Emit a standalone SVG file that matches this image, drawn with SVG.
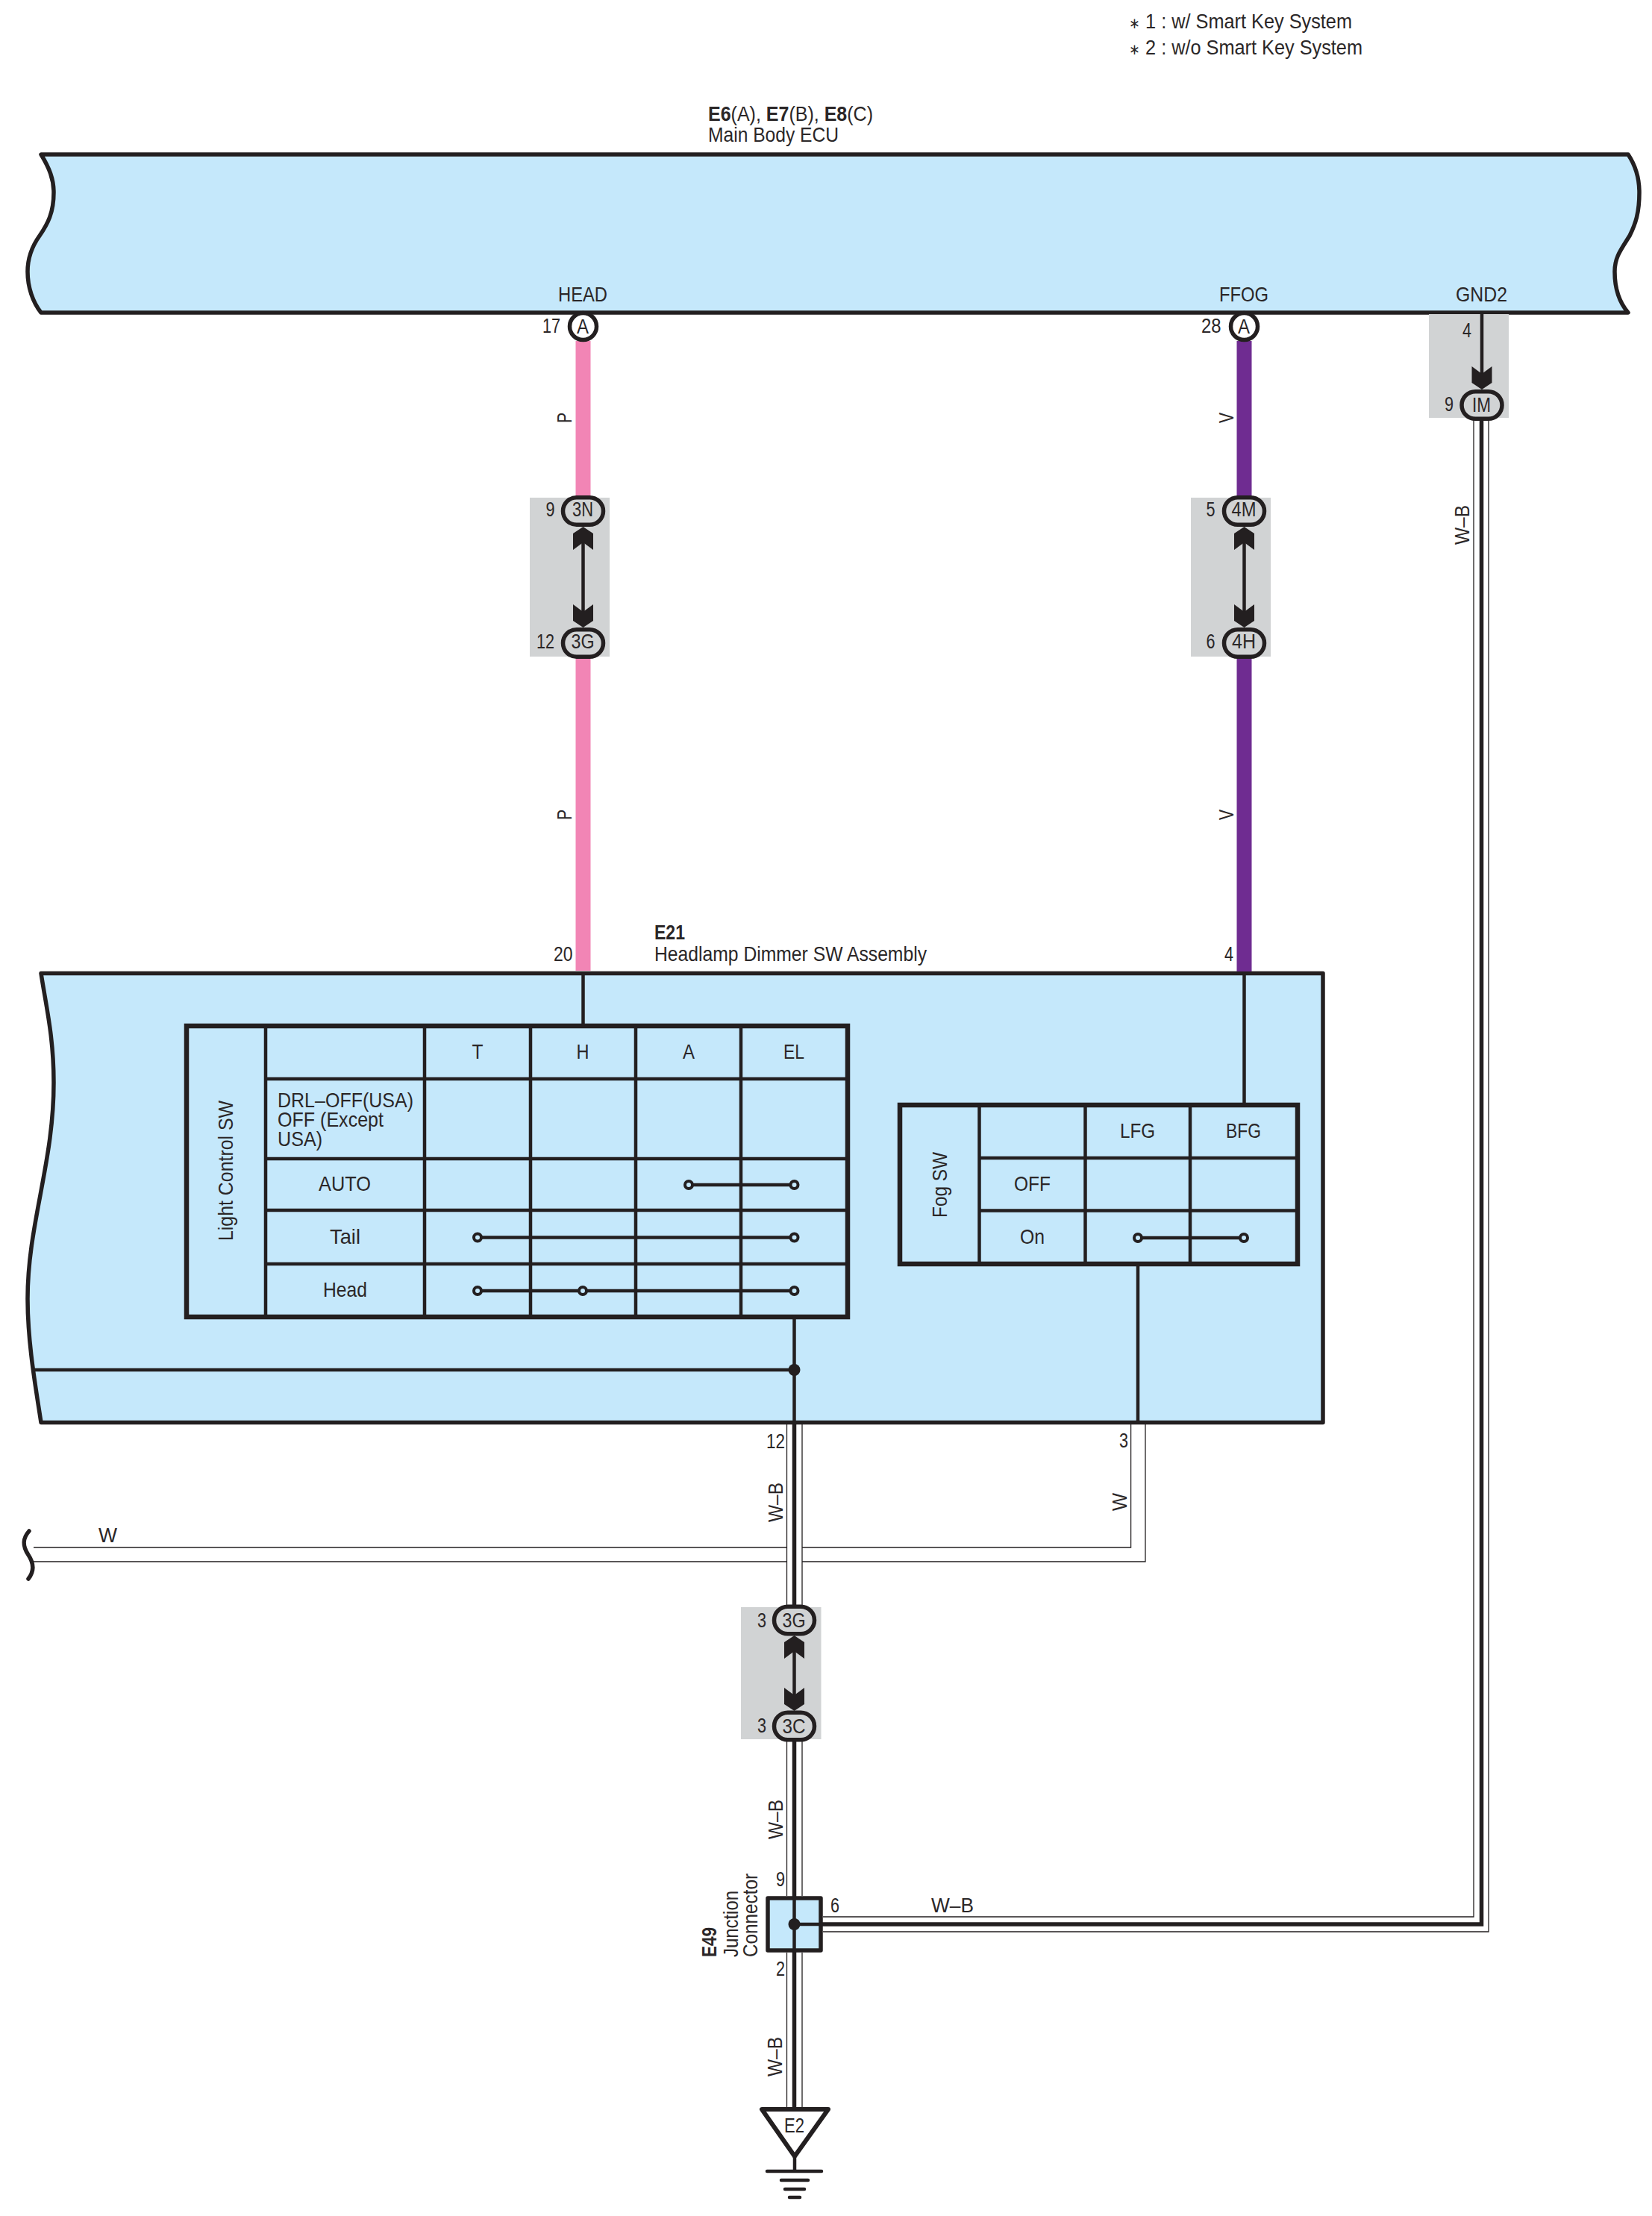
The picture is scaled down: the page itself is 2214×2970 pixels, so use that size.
<svg xmlns="http://www.w3.org/2000/svg" xmlns:xlink="http://www.w3.org/1999/xlink" width="2214" height="2970" viewBox="0 0 2214 2970">
<style>
text{font-family:"Liberation Sans",Arial,sans-serif;font-size:28.5px;fill:#2b2728;stroke:none}
.c{text-anchor:middle}
.b{font-weight:700}
.st{font-size:20px}
.body{fill:#c5e8fb;stroke:#231f20;stroke-width:5.5;stroke-linejoin:round}
.tbl{fill:#c5e8fb;stroke:#231f20;stroke-width:6.5;stroke-linejoin:miter}
.grid{fill:none;stroke:#231f20;stroke-width:4.5}
.wire{fill:none;stroke:#231f20;stroke-width:4.5}
.core{fill:none;stroke:#231f20;stroke-width:5.5;stroke-linejoin:miter}
.thin{fill:none;stroke:#231f20;stroke-width:1.3}
.pink{fill:none;stroke:#f285b5;stroke-width:20}
.vio{fill:none;stroke:#6f2c91;stroke-width:20}
.grey{fill:#d1d3d4}
.oval{fill:#d1d3d4;stroke:#231f20;stroke-width:5.5}
.ring{fill:#fff;stroke:#231f20;stroke-width:5.5}
.ink{fill:#231f20;stroke:none}
.open{fill:#c5e8fb;stroke:#231f20;stroke-width:4}
.bar{fill:none;stroke:#231f20;stroke-width:4.5;stroke-linecap:round}
</style>
<defs>
<path id="up" class="ink" d="M0 0L13.5 9V31L0 21L-13.5 31V9Z"/>
<path id="dn" class="ink" d="M0 0L13.5 -9V-31L0 -21L-13.5 -31V-9Z"/>
<rect id="ov" class="oval" x="-27" y="-18.3" width="54" height="36.6" rx="18.3"/>
<circle id="sw" class="open" r="5"/>
</defs>

<g id="note">
<text x="1513" y="38" textLength="299" lengthAdjust="spacingAndGlyphs"><tspan class="st">∗</tspan> 1 : w/ Smart Key System</text>
<text x="1513" y="73" textLength="313" lengthAdjust="spacingAndGlyphs"><tspan class="st">∗</tspan> 2 : w/o Smart Key System</text>
</g>

<g id="ecu">
<path class="body" d="M55 207H2182C2192 222 2197 240 2197 258C2197 285 2192 300 2184 316C2172 335 2164 345 2164 364C2164 385 2170 405 2182 419H55C44 405 37 385 37 364C37 345 43 330 53 316C64 300 72 285 72 258C72 240 66 225 55 207Z"/>
<text x="949" y="161.5" textLength="221" lengthAdjust="spacingAndGlyphs"><tspan class="b">E6</tspan>(A), <tspan class="b">E7</tspan>(B), <tspan class="b">E8</tspan>(C)</text>
<text x="949" y="190" textLength="175" lengthAdjust="spacingAndGlyphs">Main Body ECU</text>
<text x="748" y="404" textLength="66" lengthAdjust="spacingAndGlyphs">HEAD</text>
<text x="1634" y="404" textLength="66" lengthAdjust="spacingAndGlyphs">FFOG</text>
<text x="1951" y="404" textLength="69" lengthAdjust="spacingAndGlyphs">GND2</text>
</g>

<g id="dimmer">
<path class="body" d="M55 1304.5H1773V1906.5H55C48 1860 37 1800 37 1741C37 1640 72 1560 72 1451C72 1390 62 1350 55 1304.5Z"/>
<text class="b" x="877" y="1259" textLength="41" lengthAdjust="spacingAndGlyphs">E21</text>
<text x="877" y="1288" textLength="365" lengthAdjust="spacingAndGlyphs">Headlamp Dimmer SW Assembly</text>
</g>

<g id="light-control-sw">
<rect class="tbl" x="250" y="1375" width="886" height="390"/>
<path class="grid" d="M356 1375V1765M569 1375V1765M711 1375V1765M852 1375V1765M993 1375V1765M356 1446H1136M356 1553H1136M356 1622H1136M356 1694H1136"/>
<path class="wire" d="M923 1588H1064.5M640 1658.5H1064.5M640 1730H1064.5"/>
<use xlink:href="#sw" href="#sw" x="923" y="1588"/><use xlink:href="#sw" href="#sw" x="1064.5" y="1588"/>
<use xlink:href="#sw" href="#sw" x="640" y="1658.5"/><use xlink:href="#sw" href="#sw" x="1064.5" y="1658.5"/>
<use xlink:href="#sw" href="#sw" x="640" y="1730"/><use xlink:href="#sw" href="#sw" x="781" y="1730"/><use xlink:href="#sw" href="#sw" x="1064.5" y="1730"/>
<text transform="translate(312 1663) rotate(-90)" textLength="188" lengthAdjust="spacingAndGlyphs">Light Control SW</text>
<text class="c" x="640" y="1419" textLength="15" lengthAdjust="spacingAndGlyphs">T</text>
<text class="c" x="781" y="1419" textLength="17" lengthAdjust="spacingAndGlyphs">H</text>
<text class="c" x="923" y="1419" textLength="16" lengthAdjust="spacingAndGlyphs">A</text>
<text class="c" x="1064" y="1419" textLength="28" lengthAdjust="spacingAndGlyphs">EL</text>
<text x="372" y="1484" textLength="182" lengthAdjust="spacingAndGlyphs">DRL–OFF(USA)</text>
<text x="372" y="1510" textLength="142" lengthAdjust="spacingAndGlyphs">OFF (Except</text>
<text x="372" y="1536" textLength="60" lengthAdjust="spacingAndGlyphs">USA)</text>
<text x="427" y="1596" textLength="70" lengthAdjust="spacingAndGlyphs">AUTO</text>
<text x="442" y="1667" textLength="41" lengthAdjust="spacingAndGlyphs">Tail</text>
<text x="433" y="1738" textLength="59" lengthAdjust="spacingAndGlyphs">Head</text>
</g>

<g id="fog-sw">
<rect class="tbl" x="1206" y="1481" width="533" height="213"/>
<path class="grid" d="M1312.5 1481V1694M1454.5 1481V1694M1595 1481V1694M1312.5 1552H1739M1312.5 1622.5H1739"/>
<path class="wire" d="M1525 1659H1667"/>
<use xlink:href="#sw" href="#sw" x="1525" y="1659"/><use xlink:href="#sw" href="#sw" x="1667" y="1659"/>
<text transform="translate(1269 1632) rotate(-90)" textLength="88" lengthAdjust="spacingAndGlyphs">Fog SW</text>
<text x="1501" y="1524.5" textLength="47" lengthAdjust="spacingAndGlyphs">LFG</text>
<text x="1643" y="1524.5" textLength="47" lengthAdjust="spacingAndGlyphs">BFG</text>
<text x="1359" y="1596" textLength="49" lengthAdjust="spacingAndGlyphs">OFF</text>
<text x="1367" y="1667" textLength="33" lengthAdjust="spacingAndGlyphs">On</text>
</g>

<g id="connectors">
<path class="pink" d="M781.5 457V668M781.5 880V1301"/>
<path class="vio" d="M1667.5 457V668M1667.5 880V1302"/>
<path class="wire" d="M781.5 1304V1375M1667.5 1304V1481M1064.5 1765V1909M44 1836H1064.5M1525 1694V1906"/>
<circle class="ink" cx="1064.5" cy="1836" r="8"/>
<path class="core" d="M1064.5 1906V2155M1064.5 2330V2827"/>
<path class="thin" d="M1054.5 1909V2152M1075 1909V2152M1054.5 2333V2541M1075 2333V2541M1054.5 2617V2825M1075 2617V2825"/>
<path class="thin" d="M1515.6 1909V2074H1075M1054.5 2074H45M1535 1909V2093H1075M1054.5 2093H45"/>
<path class="bar" style="stroke-width:5.5" d="M39 2052C30 2062 30 2072 38 2084C46 2096 46 2106 38 2116"/>
<path class="core" d="M1064.5 2579H1985.5V560"/>
<path class="thin" d="M1103 2569H1975V562M1103 2589H1995V562"/>
<text x="132" y="2067" textLength="25" lengthAdjust="spacingAndGlyphs">W</text>
<text x="1500" y="1940" textLength="12" lengthAdjust="spacingAndGlyphs">3</text>
<text transform="translate(1509.7 2025) rotate(-90)" textLength="24" lengthAdjust="spacingAndGlyphs">W</text>
<text x="1027" y="1941" textLength="25" lengthAdjust="spacingAndGlyphs">12</text>
<text x="742" y="1288" textLength="25.5" lengthAdjust="spacingAndGlyphs">20</text>
<text x="1641" y="1288" textLength="12" lengthAdjust="spacingAndGlyphs">4</text>
<text transform="translate(765.7 567) rotate(-90)" textLength="14" lengthAdjust="spacingAndGlyphs">P</text>
<text transform="translate(765.7 1099) rotate(-90)" textLength="14" lengthAdjust="spacingAndGlyphs">P</text>
<text transform="translate(1653 567) rotate(-90)" textLength="14" lengthAdjust="spacingAndGlyphs">V</text>
<text transform="translate(1653 1099) rotate(-90)" textLength="14" lengthAdjust="spacingAndGlyphs">V</text>
<text transform="translate(1969 730) rotate(-90)" textLength="53" lengthAdjust="spacingAndGlyphs">W–B</text>
<text transform="translate(1049 2040) rotate(-90)" textLength="53" lengthAdjust="spacingAndGlyphs">W–B</text>
<text transform="translate(1049 2465) rotate(-90)" textLength="53" lengthAdjust="spacingAndGlyphs">W–B</text>
<text transform="translate(1048 2783) rotate(-90)" textLength="53" lengthAdjust="spacingAndGlyphs">W–B</text>
<text x="1248" y="2563" textLength="57" lengthAdjust="spacingAndGlyphs">W–B</text>
</g>

<g id="pin-head">
<circle class="ring" cx="781.5" cy="437.5" r="18"/>
<text class="c" x="781" y="447" textLength="16" lengthAdjust="spacingAndGlyphs">A</text>
<text x="727" y="446" textLength="24" lengthAdjust="spacingAndGlyphs">17</text>
</g>
<g id="pin-ffog">
<circle class="ring" cx="1667.5" cy="437.5" r="18"/>
<text class="c" x="1667" y="447" textLength="16" lengthAdjust="spacingAndGlyphs">A</text>
<text x="1610" y="446" textLength="26.5" lengthAdjust="spacingAndGlyphs">28</text>
</g>

<g id="conn-3n-3g">
<rect class="grey" x="710" y="667" width="107" height="213"/>
<path class="wire" d="M781.5 725V822"/>
<use xlink:href="#up" href="#up" x="781.5" y="706"/><use xlink:href="#dn" href="#dn" x="781.5" y="841"/>
<use xlink:href="#ov" href="#ov" x="781.5" y="685"/><use xlink:href="#ov" href="#ov" x="781.5" y="862"/>
<text class="c" x="781" y="692" textLength="28" lengthAdjust="spacingAndGlyphs">3N</text>
<text class="c" x="781" y="869" textLength="31" lengthAdjust="spacingAndGlyphs">3G</text>
<text x="731.5" y="692" textLength="12" lengthAdjust="spacingAndGlyphs">9</text>
<text x="719" y="869" textLength="24" lengthAdjust="spacingAndGlyphs">12</text>
</g>

<g id="conn-4m-4h">
<rect class="grey" x="1596" y="667" width="107" height="213"/>
<path class="wire" d="M1667.5 725V822"/>
<use xlink:href="#up" href="#up" x="1667.5" y="706"/><use xlink:href="#dn" href="#dn" x="1667.5" y="841"/>
<use xlink:href="#ov" href="#ov" x="1667.5" y="685"/><use xlink:href="#ov" href="#ov" x="1667.5" y="862"/>
<text class="c" x="1667" y="692" textLength="33" lengthAdjust="spacingAndGlyphs">4M</text>
<text class="c" x="1667" y="869" textLength="32" lengthAdjust="spacingAndGlyphs">4H</text>
<text x="1616.5" y="692" textLength="12" lengthAdjust="spacingAndGlyphs">5</text>
<text x="1616.5" y="869" textLength="12" lengthAdjust="spacingAndGlyphs">6</text>
</g>

<g id="conn-im">
<rect class="grey" x="1915" y="421" width="107" height="139"/>
<path class="wire" d="M1986 419V505"/>
<use xlink:href="#dn" href="#dn" x="1986" y="522"/>
<use xlink:href="#ov" href="#ov" x="1986" y="543"/>
<text class="c" x="1985.5" y="551.5" textLength="25" lengthAdjust="spacingAndGlyphs">IM</text>
<text x="1960" y="452" textLength="12" lengthAdjust="spacingAndGlyphs">4</text>
<text x="1936" y="551" textLength="12" lengthAdjust="spacingAndGlyphs">9</text>
</g>

<g id="conn-3g-3c">
<rect class="grey" x="993" y="2154" width="107.5" height="177"/>
<path class="wire" d="M1064.5 2210V2275"/>
<use xlink:href="#up" href="#up" x="1064.5" y="2192"/><use xlink:href="#dn" href="#dn" x="1064.5" y="2293"/>
<use xlink:href="#ov" href="#ov" x="1064.5" y="2171.5"/><use xlink:href="#ov" href="#ov" x="1064.5" y="2313.5"/>
<text class="c" x="1064" y="2181" textLength="31" lengthAdjust="spacingAndGlyphs">3G</text>
<text class="c" x="1064" y="2322.5" textLength="31" lengthAdjust="spacingAndGlyphs">3C</text>
<text x="1015" y="2181" textLength="12" lengthAdjust="spacingAndGlyphs">3</text>
<text x="1015" y="2322" textLength="12" lengthAdjust="spacingAndGlyphs">3</text>
</g>

<g id="junction-e49">
<rect class="body" x="1029" y="2544" width="71" height="70"/>
<path class="wire" d="M1064.5 2544V2614M1064.5 2579H1100"/>
<circle class="ink" cx="1064.5" cy="2579" r="8"/>
<text class="b" transform="translate(960 2623) rotate(-90)" textLength="40" lengthAdjust="spacingAndGlyphs">E49</text>
<text transform="translate(989 2623) rotate(-90)" textLength="89" lengthAdjust="spacingAndGlyphs">Junction</text>
<text transform="translate(1015 2623) rotate(-90)" textLength="112" lengthAdjust="spacingAndGlyphs">Connector</text>
<text x="1040" y="2528" textLength="12" lengthAdjust="spacingAndGlyphs">9</text>
<text x="1113" y="2563" textLength="12" lengthAdjust="spacingAndGlyphs">6</text>
<text x="1040" y="2648" textLength="12" lengthAdjust="spacingAndGlyphs">2</text>
</g>

<g id="ground-e2">
<path d="M1021 2827H1110L1065 2890Z" fill="#fff" stroke="#231f20" stroke-width="6" stroke-linejoin="round"/>
<path class="wire" d="M1065 2890V2910"/>
<path class="bar" d="M1028 2910H1101M1047 2922H1083M1052 2934H1078M1058 2945H1072"/>
<text class="c" x="1064.5" y="2858" textLength="27" lengthAdjust="spacingAndGlyphs">E2</text>
</g>
</svg>
